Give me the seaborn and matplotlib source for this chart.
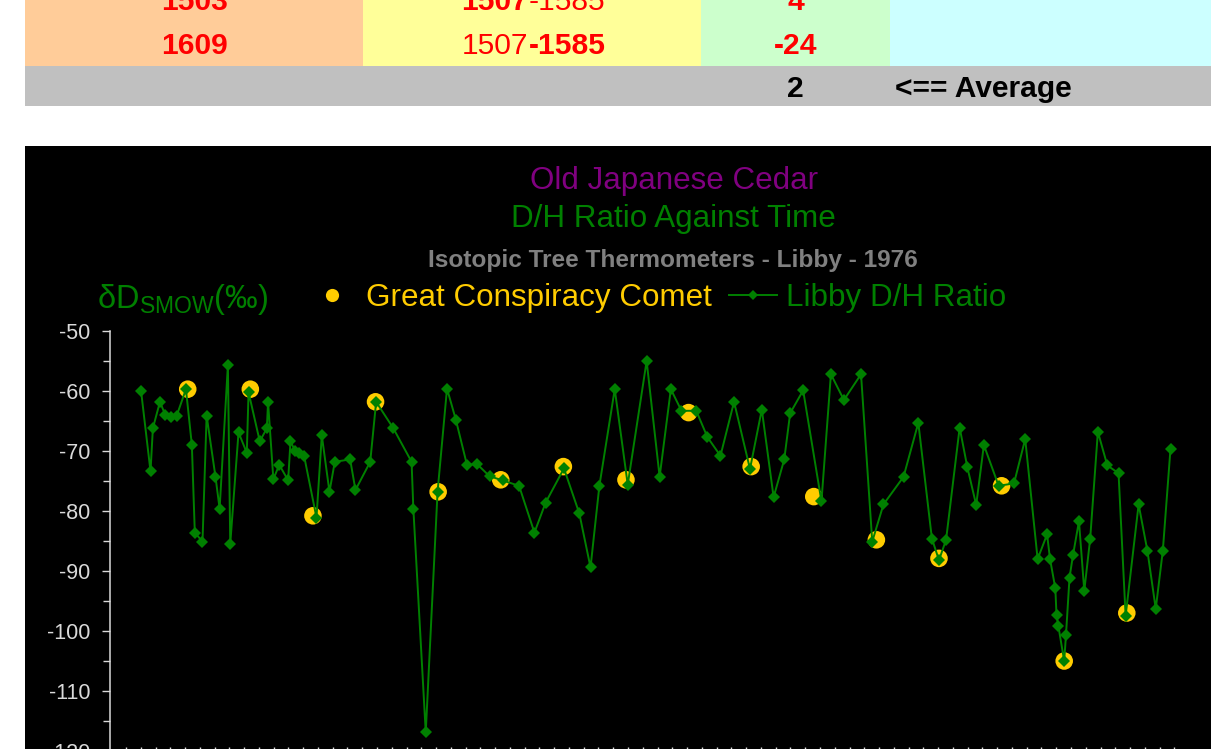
import numpy as np
import pandas as pd
import seaborn as sns
import matplotlib
matplotlib.use("Agg")
import matplotlib.pyplot as plt
from matplotlib.lines import Line2D
from matplotlib.patches import Rectangle
from matplotlib.ticker import MultipleLocator

# Libby D/H series from the old Japanese cedar (year, dD per mil)
libby_years = [-60, -44, -40, -28, -19, -10, 0, 16, 26, 31,
               44, 51, 66, 73, 87, 91, 105, 119, 122, 141,
               153, 155, 164, 174, 189, 193, 201, 208, 216, 237,
               246, 259, 268, 294, 303, 328, 338, 367, 398, 401,
               422, 442, 458, 473, 492, 508, 530, 552, 580, 606,
               625, 656, 682, 701, 716, 742, 764, 796, 818, 837,
               855, 880, 899, 921, 944, 971, 991, 1011, 1029, 1039,
               1061, 1092, 1108, 1130, 1159, 1178, 1197, 1231, 1256, 1279,
               1291, 1303, 1326, 1339, 1354, 1367, 1392, 1418, 1437, 1458,
               1474, 1479, 1488, 1490, 1493, 1503, 1506, 1512, 1518, 1528,
               1537, 1547, 1560, 1576, 1595, 1607, 1629, 1644, 1658, 1670,
               1683]
libby_dd = [-60.0, -73.4, -66.2, -61.8, -64.0, -64.3, -64.2, -59.7, -69.0, -83.6,
            -85.1, -64.1, -74.3, -79.6, -55.7, -85.5, -66.9, -70.3, -60.2, -68.4,
            -66.2, -61.8, -74.7, -72.3, -74.9, -68.4, -70.0, -70.4, -70.8, -81.1,
            -67.4, -76.8, -71.8, -71.4, -76.5, -71.8, -61.8, -66.2, -71.8, -79.6,
            -116.9, -76.8, -59.6, -64.8, -72.4, -72.1, -74.2, -74.9, -75.8, -83.6,
            -78.6, -72.9, -80.4, -89.4, -75.8, -59.7, -75.6, -55.0, -74.3, -59.7,
            -63.3, -63.3, -67.7, -70.8, -61.8, -73.0, -63.1, -77.7, -71.4, -63.7,
            -59.9, -78.4, -57.2, -61.5, -57.2, -85.1, -78.9, -74.3, -65.3, -84.6,
            -88.2, -84.8, -66.1, -72.7, -79.0, -69.0, -75.8, -75.4, -68.0, -88.0,
            -83.9, -88.0, -92.9, -97.4, -99.1, -105.0, -100.7, -91.1, -87.3, -81.7,
            -93.3, -84.6, -66.8, -72.4, -73.7, -97.5, -78.9, -86.7, -96.3, -86.6,
            -69.6]

# Great Conspiracy Comet returns
comet_years = [19, 125, 231, 337, 443, 549, 655, 761, 867, 973,
               1079, 1185, 1291, 1397, 1503, 1609]
comet_dd = [-59.7, -59.7, -80.8, -61.8, -76.8, -74.8, -72.6, -74.8, -63.6, -72.6,
            -77.6, -84.8, -87.9, -75.8, -105.0, -97.0]

# spreadsheet rows shown above the chart
table_year = ["1503", "1609"]
table_range_start = ["1507", "1507"]
table_range_end = ["-1585", "-1585"]
table_diff = ["4", "-24"]
table_average = "2"

W, H = 1211, 749
GREEN = "#008000"
GOLD = "#FFCC00"
AXIS_GREY = "#D9D9D9"
CHART_FS = 22.6

plt.rcParams["font.family"] = ["Liberation Sans", "DejaVu Sans"]
plt.rcParams["mathtext.fontset"] = "custom"
plt.rcParams["mathtext.rm"] = "Liberation Sans"
plt.rcParams["axes.unicode_minus"] = False


def fx(x):
    return x / W


def fy(y):
    return 1 - y / H


def box(x0, y0, x1, y1, color):
    fig.add_artist(Rectangle((fx(x0), fy(y1)), (x1 - x0) / W, (y1 - y0) / H,
                             transform=fig.transFigure, facecolor=color,
                             edgecolor="none", zorder=0))


fig = plt.figure(figsize=(W / 100, H / 100), dpi=100, facecolor="white")

# --- table strip ---
box(25, 0, 363, 65.7, "#FFCC99")
box(363, 0, 701, 65.7, "#FFFF99")
box(701, 0, 890, 65.7, "#CCFFCC")
box(890, 0, W, 65.7, "#CCFFFF")
box(25, 65.7, W, 106, "#C0C0C0")

tsize = 21.6
baselines = [10.5, 54]
for i, base in enumerate(baselines):
    fig.text(fx(194.5), fy(base), table_year[i], ha="center", va="baseline",
             color="red", fontsize=tsize, fontweight="bold")
    fig.text(fx(528.4), fy(base), table_range_start[i], ha="right", va="baseline",
             color="red", fontsize=tsize, fontweight="bold" if i == 0 else "normal")
    fig.text(fx(528.4), fy(base), table_range_end[i], ha="left", va="baseline",
             color="red", fontsize=tsize, fontweight="normal" if i == 0 else "bold")
    fig.text(fx(795.5), fy(base), table_diff[i], ha="center", va="baseline",
             color="red", fontsize=tsize, fontweight="bold")
fig.text(fx(795.5), fy(96.6), table_average, ha="center", va="baseline",
         color="black", fontsize=tsize, fontweight="bold")
fig.text(fx(895), fy(96.6), "<== Average", ha="left", va="baseline",
         color="black", fontsize=tsize, fontweight="bold")

# --- chart ---
box(25, 146, W, H, "black")

ax = fig.add_axes([fx(110), fy(751), 1080 / W, 420 / H])
ax.set_facecolor("black")

sns.scatterplot(x=comet_years, y=comet_dd, color=GOLD, s=160, edgecolor="none",
                ax=ax, zorder=2, legend=False)
sns.lineplot(x=libby_years, y=libby_dd, sort=False, color=GREEN, linewidth=1.4,
             marker="D", markersize=6, markeredgewidth=0, ax=ax, zorder=3)

ax.set_xlim(-112.6, 1716)
ax.set_ylim(-120, -50)
ax.set_yticks(np.arange(-120, -49, 10))
ax.yaxis.set_minor_locator(MultipleLocator(5))
ax.set_xticks(np.arange(-85.5, 1700, 25))
ax.set_xticklabels([])
ax.tick_params(axis="y", which="major", length=5.8, width=1, color=AXIS_GREY,
               labelcolor=AXIS_GREY, labelsize=15.5, pad=8.4)
ax.tick_params(axis="y", which="minor", length=5, width=1, color=AXIS_GREY)
ax.tick_params(axis="x", which="major", length=3, width=1, direction="in",
               color=AXIS_GREY)
for side in ["top", "right", "bottom"]:
    ax.spines[side].set_visible(False)
ax.spines["left"].set_color(AXIS_GREY)
ax.spines["left"].set_linewidth(1.1)
ax.grid(False)

ax.set_xlabel("")
ax.set_ylabel(r"δD$_{\mathrm{SMOW}}$(‰)", rotation=0, color=GREEN, fontsize=23.5,
              ha="left", va="baseline")
ax.yaxis.set_label_coords((97 - 110) / 1080, (751 - 308) / 420)

fig.text(fx(674), fy(189), "Old Japanese Cedar", ha="center", va="baseline",
         color="#800080", fontsize=CHART_FS)
fig.text(fx(673), fy(227), "D/H Ratio Against Time", ha="center", va="baseline",
         color=GREEN, fontsize=CHART_FS)
fig.text(fx(673), fy(267), "Isotopic Tree Thermometers - Libby - 1976",
         ha="center", va="baseline", color="#808080", fontsize=17.6,
         fontweight="bold")

handles = [
    Line2D([], [], linestyle="none", marker="o", markersize=9.5,
           markerfacecolor=GOLD, markeredgewidth=0),
    Line2D([], [], color=GREEN, linewidth=1.4, marker="D", markersize=5,
           markerfacecolor=GREEN, markeredgewidth=0),
]
fig.legend(handles, ["Great Conspiracy Comet", "Libby D/H Ratio"],
           loc="center left", bbox_to_anchor=(fx(308), fy(298)), ncol=2,
           frameon=False, fontsize=CHART_FS, handlelength=1.55,
           handletextpad=0.29, columnspacing=0.54, borderpad=0, borderaxespad=0,
           labelcolor=[GOLD, GREEN])

fig.savefig("out.png", dpi=100, facecolor="white")
